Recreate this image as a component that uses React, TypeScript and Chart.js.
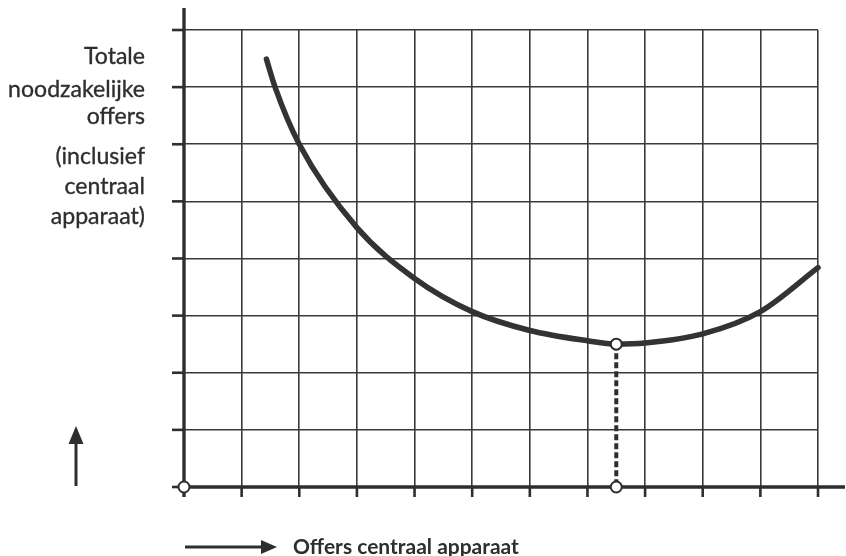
import React, { useEffect, useRef } from "react";
import { Chart, registerables } from "chart.js";

Chart.register(...registerables);

// ---- data ----
const curveX = [1.43, 1.58, 2, 3, 4, 5, 6, 7, 7.5, 8, 9, 10, 11];
const curveY = [7.49, 7.0, 6.0, 4.54, 3.65, 3.07, 2.74, 2.56, 2.5, 2.52, 2.68, 3.07, 3.84];
const optimumX = 7.5;
const optimumY = 2.5;
const xMin = 0;
const xMax = 11;
const yMin = 0;
const yMax = 8;
const yLabelTop = ["Totale", "noodzakelijke", "offers"];
const yLabelBottom = ["(inclusief", "centraal", "apparaat)"];
const xLabel = "Offers centraal apparaat";

const INK = "#2e2e2e";
const FONT = "Lato, 'Open Sans', sans-serif";

function fitSize(ctx: CanvasRenderingContext2D, text: string, target: number, weight: string) {
  ctx.font = `${weight} 20px ${FONT}`;
  return (20 * target) / ctx.measureText(text).width;
}

function drawText(ctx: CanvasRenderingContext2D, text: string, x: number, y: number, align: CanvasTextAlign, stroke: number) {
  ctx.textAlign = align;
  ctx.textBaseline = "middle";
  ctx.fillText(text, x, y);
  if (stroke > 0) {
    ctx.lineWidth = stroke;
    ctx.lineJoin = "round";
    ctx.strokeText(text, x, y);
  }
}

const decorPlugin = {
  id: "decor",
  beforeDatasetsDraw(chart: any) {
    const { ctx } = chart;
    const xs = chart.scales.x;
    const ys = chart.scales.y;
    const area = chart.chartArea;
    const x0 = xs.getPixelForValue(xMin);
    const y0 = ys.getPixelForValue(yMin);
    ctx.save();
    ctx.strokeStyle = INK;
    ctx.lineCap = "butt";
    ctx.lineWidth = 2.6;
    for (let v = yMin; v <= yMax; v++) {
      const py = ys.getPixelForValue(v);
      ctx.beginPath();
      ctx.moveTo(x0 - 12, py);
      ctx.lineTo(x0, py);
      ctx.stroke();
    }
    for (let v = xMin + 1; v <= xMax; v++) {
      const px = xs.getPixelForValue(v);
      ctx.beginPath();
      ctx.moveTo(px, y0);
      ctx.lineTo(px, y0 + 10);
      ctx.stroke();
    }
    ctx.lineWidth = 3.4;
    ctx.beginPath();
    ctx.moveTo(x0, area.top - 22);
    ctx.lineTo(x0, y0 + 10);
    ctx.stroke();
    ctx.beginPath();
    ctx.moveTo(x0, y0);
    ctx.lineTo(chart.width - 1, y0);
    ctx.stroke();
    ctx.restore();
  },
  afterDraw(chart: any) {
    const { ctx } = chart;
    const ys = chart.scales.y;
    const y0 = ys.getPixelForValue(yMin);
    ctx.save();
    ctx.fillStyle = INK;
    ctx.strokeStyle = INK;
    // y label
    const fs = fitSize(ctx, "noodzakelijke", 137, "normal");
    ctx.font = `normal ${fs}px ${FONT}`;
    const rows = [57, 90, 117, 157, 187, 217];
    [...yLabelTop, ...yLabelBottom].forEach((t, i) => drawText(ctx, t, 145, rows[i], "right", 0.35));
    // x label
    const fx = fitSize(ctx, xLabel, 226, "bold");
    ctx.font = `bold ${fx}px ${FONT}`;
    drawText(ctx, xLabel, 293, 547, "left", 0);
    // vertical arrow
    ctx.lineWidth = 3;
    ctx.beginPath();
    ctx.moveTo(76, y0 - 1);
    ctx.lineTo(76, 438);
    ctx.stroke();
    ctx.beginPath();
    ctx.moveTo(76, 426);
    ctx.lineTo(68.5, 444);
    ctx.lineTo(83.5, 444);
    ctx.closePath();
    ctx.fill();
    // horizontal arrow
    ctx.beginPath();
    ctx.moveTo(185, 547);
    ctx.lineTo(266, 547);
    ctx.stroke();
    ctx.beginPath();
    ctx.moveTo(277, 547);
    ctx.lineTo(261, 540);
    ctx.lineTo(261, 554);
    ctx.closePath();
    ctx.fill();
    ctx.restore();
  },
};

export default function App() {
  const ref = useRef<HTMLCanvasElement | null>(null);
  useEffect(() => {
    if (!ref.current) return;
    const circle = {
      pointRadius: 5.5,
      pointHoverRadius: 5.5,
      pointBackgroundColor: "#ffffff",
      pointBorderColor: INK,
      pointBorderWidth: 2,
    };
    const chart = new Chart(ref.current, {
      type: "scatter",
      data: {
        datasets: [
          {
            data: [{ x: xMin, y: yMin }],
            showLine: false,
            clip: false,
            ...circle,
          },
          {
            data: [
              { x: optimumX, y: optimumY },
              { x: optimumX, y: yMin },
            ],
            showLine: true,
            borderColor: INK,
            borderWidth: 4,
            borderDash: [6, 3],
            clip: false,
            ...circle,
          },
          {
            data: curveX.map((x, i) => ({ x, y: curveY[i] })),
            showLine: true,
            borderColor: "#333333",
            borderWidth: 5.5,
            borderCapStyle: "round",
            cubicInterpolationMode: "monotone",
            pointRadius: 0,
            pointHoverRadius: 0,
            clip: false,
          },
        ],
      } as any,
      options: {
        animation: false,
        responsive: false,
        devicePixelRatio: 1,
        layout: { padding: { left: 184, right: 28, top: 30, bottom: 69 } },
        plugins: { legend: { display: false }, tooltip: { enabled: false } },
        events: [],
        scales: {
          x: {
            type: "linear",
            min: xMin,
            max: xMax,
            ticks: { display: false, stepSize: 1 },
            grid: { color: "#3a3a3a", lineWidth: 1.6, drawTicks: false },
            border: { display: false },
          },
          y: {
            type: "linear",
            min: yMin,
            max: yMax,
            ticks: { display: false, stepSize: 1 },
            grid: { color: "#3a3a3a", lineWidth: 1.6, drawTicks: false },
            border: { display: false },
          },
        },
      } as any,
      plugins: [decorPlugin],
    });
    return () => chart.destroy();
  }, []);
  return (
    <div style={{ position: "fixed", left: 0, top: 0, width: 846, height: 556, background: "#ffffff" }}>
      <canvas ref={ref} width={846} height={556} />
    </div>
  );
}
